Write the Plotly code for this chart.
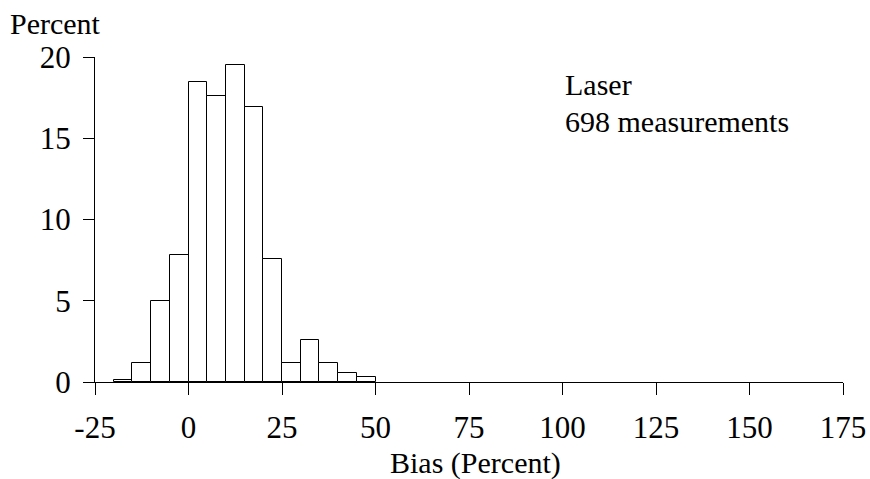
import plotly.graph_objects as go

bin_centers = [-17.5, -12.5, -7.5, -2.5, 2.5, 7.5, 12.5, 17.5, 22.5, 27.5, 32.5, 37.5, 42.5, 47.5]
percent = [0.14, 1.15, 5.01, 7.81, 18.48, 17.62, 19.48, 16.9, 7.59, 1.15, 2.58, 1.15, 0.57, 0.29]
bin_width = 5
x_ticks = [-25, 0, 25, 50, 75, 100, 125, 150, 175]
y_ticks = [0, 5, 10, 15, 20]

FONT = "Times New Roman, Liberation Serif, DejaVu Serif, serif"
W, H = 870, 479
L, R, T, B = 95, 27, 57, 97

fig = go.Figure()
fig.add_trace(go.Bar(
    x=bin_centers, y=percent, width=[bin_width] * len(bin_centers),
    marker=dict(color="white", line=dict(color="black", width=1)),
    showlegend=False, hoverinfo="x+y",
))

pw = W - L - R
ph = H - T - B

def px(x):
    return (x - L) / pw

def py(y):
    return (H - B - y) / ph

fig.update_layout(
    width=W, height=H,
    margin=dict(l=L, r=R, t=T, b=B, pad=0, autoexpand=False),
    paper_bgcolor="white", plot_bgcolor="white",
    font=dict(family=FONT, size=31, color="black"),
    bargap=0,
    xaxis=dict(
        range=[-25, 175], tickvals=x_ticks, ticktext=[str(v) for v in x_ticks],
        showgrid=False, zeroline=False, showline=True, linecolor="black", linewidth=1,
        ticks="outside", ticklen=12, tickcolor="black", tickwidth=1,
        ticklabelstandoff=6, automargin=False,
        tickfont=dict(family=FONT, size=31, color="black"),
    ),
    yaxis=dict(
        range=[0, 20], tickvals=y_ticks, ticktext=[str(v) for v in y_ticks],
        showgrid=False, zeroline=False, showline=True, linecolor="black", linewidth=1,
        ticks="outside", ticklen=11, tickcolor="black", tickwidth=1,
        ticklabelstandoff=6, automargin=False,
        tickfont=dict(family=FONT, size=31, color="black"),
    ),
    annotations=[
        dict(text="Percent", xref="paper", yref="paper", x=px(8), y=py(24),
             xanchor="left", yanchor="middle", showarrow=False,
             font=dict(family=FONT, size=30, color="black")),
        dict(text="Bias (Percent)", xref="paper", yref="paper", x=px(475.5), y=py(463),
             xanchor="center", yanchor="middle", showarrow=False,
             font=dict(family=FONT, size=30, color="black")),
        dict(text="Laser", xref="paper", yref="paper", x=px(563), y=py(66),
             xanchor="left", yanchor="top", align="left", showarrow=False,
             font=dict(family=FONT, size=30, color="black")),
        dict(text="698 measurements", xref="paper", yref="paper", x=px(563), y=py(103),
             xanchor="left", yanchor="top", align="left", showarrow=False,
             font=dict(family=FONT, size=30, color="black")),
    ],
)

fig.write_html("out.html")
